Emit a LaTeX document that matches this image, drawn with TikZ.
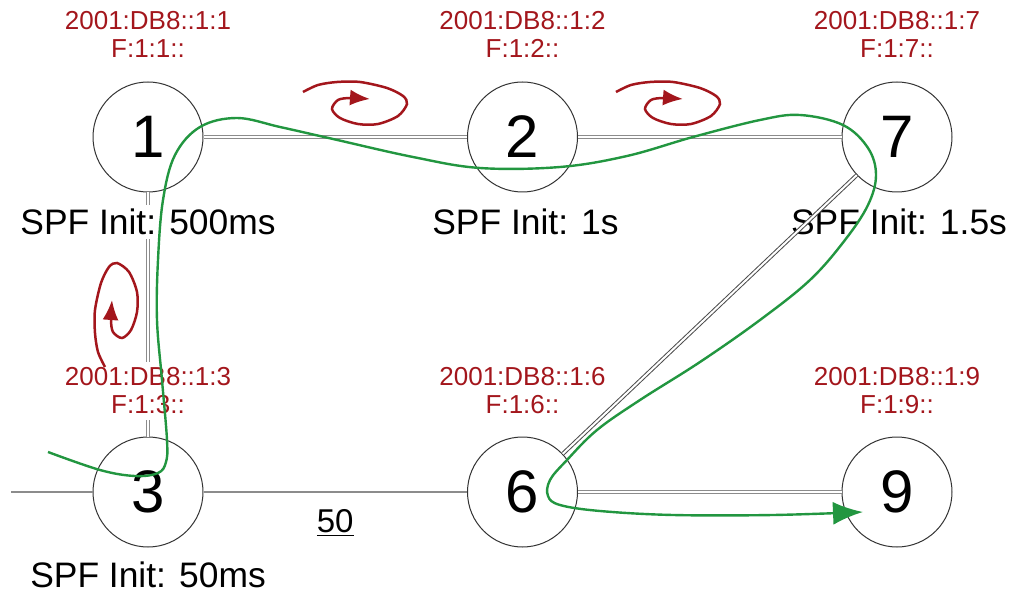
\documentclass[tikz,border=0pt]{standalone}
\usepackage{fontspec}
\setmainfont{Liberation Sans}
\usetikzlibrary{arrows.meta}

\definecolor{addrred}{RGB}{163,22,28}
\definecolor{pathgreen}{RGB}{34,150,64}
\definecolor{linkgray}{RGB}{140,140,140}

\tikzset{
  router/.style={circle, draw=black!80, line width=0.5pt, minimum size=55pt, inner sep=0pt,
                 font=\fontsize{30}{36}\selectfont},
  addr/.style={fill=white, text=addrred, align=center, inner sep=3pt,
               font=\fontsize{13}{14}\selectfont},
  spf/.style={fill=white, inner sep=2pt, font=\fontsize{17.7}{21}\selectfont},
  cost/.style={font=\fontsize{16.5}{20}\selectfont},
  link/.style={draw=linkgray, line width=0.5pt, double=white, double distance=1pt},
  plain/.style={draw=linkgray, line width=0.8pt},
  curl/.style={draw=addrred, line width=1.25pt, -{Latex[length=10pt,width=8pt]}},
  flow/.style={draw=pathgreen, line width=1.2pt, -{Latex[length=15pt,width=11.5pt]}}
}

\begin{document}
\begin{tikzpicture}[x=0.5pt, y=-0.5pt, node distance=187.25pt]
    \useasboundingbox (0,0) rectangle (1012,593);

    \node[router] (n1) at (148,137) {1};
    \node[router] (n2) [right of=n1] {2};
    \node[router] (n7) [right of=n2] {7};
    \node[router] (n3) [below of=n1, node distance=177.5pt] {3};
    \node[router] (n6) [right of=n3] {6};
    \node[router] (n9) [right of=n6] {9};
    \coordinate (in3) at (11,492);

    \path (n1) edge[link] (n2)
               edge[link] (n3)
          (n2) edge[link] (n7)
          (n6) edge[link] (n9)
          (in3) edge[plain] (n3)
          (n3) edge[plain] node[cost, yshift=-15.5pt] (c36) {\underline{50}} (n6);

    % addresses
    \node[addr] (a1) [above of=n1, node distance=51.5pt] {2001:DB8::1:1\\F:1:1::};
    \node[addr] (a2) [above of=n2, node distance=51.5pt] {2001:DB8::1:2\\F:1:2::};
    \node[addr] (a7) [above of=n7, node distance=51.5pt] {2001:DB8::1:7\\F:1:7::};
    \node[addr] (a3) [above of=n3, node distance=50.5pt] {2001:DB8::1:3\\F:1:3::};
    \node[addr] (a6) [above of=n6, node distance=50.5pt] {2001:DB8::1:6\\F:1:6::};
    \node[addr] (a9) [above of=n9, node distance=50.5pt] {2001:DB8::1:9\\F:1:9::};

    % spf timers
    \node[spf] (s1) [below of=n1, node distance=42.5pt] {SPF Init: 500ms};
    \node[spf] (s2) [below of=n2, node distance=42.5pt, xshift=1.5pt] {SPF Init: 1s};
    \node[spf] (s7) [below of=n7, node distance=42.5pt, xshift=1pt] {SPF Init: 1.5s};
    \node[spf] (s3) [below of=n3, node distance=41.5pt] {SPF Init: 50ms};

    \path (n7) edge[link, draw=black!70] (n6);

    % flooding curls
    \foreach \tip/\turn in {{(370,99)}/0, {(683,99)}/0, {(112,300)}/90}
        \draw[curl, shift={\tip}, rotate=\turn] plot[smooth] coordinates {
            (-67,-7) (-52,-14) (-33,-17) (-10,-17) (17,-11) (33,-3) (37,5) (28,17)
            (8,25) (-12,25) (-30,19) (-38,10) (-32,1) (-20,-1) (0,0)};

    % path of the packet
    \draw[flow] plot[smooth, tension=0.6] coordinates {
        (48,452) (100,470) (135,476) (158,473) (166,462) (167,440) (162,380)
        (157,320) (158,260) (163,200) (175,155) (200,127) (237,118) (280,127)
        (333,139) (413,157) (480,168) (560,167) (627,156) (693,137) (760,120)
        (800,115) (843,125) (868,148) (876,175) (868,205) (845,240) (810,280)
        (760,320) (700,362) (640,400) (597,430) (567,460) (550,480) (548,496)
        (560,505) (600,511) (673,515) (773,515) (863,512)};
\end{tikzpicture}
\end{document}
